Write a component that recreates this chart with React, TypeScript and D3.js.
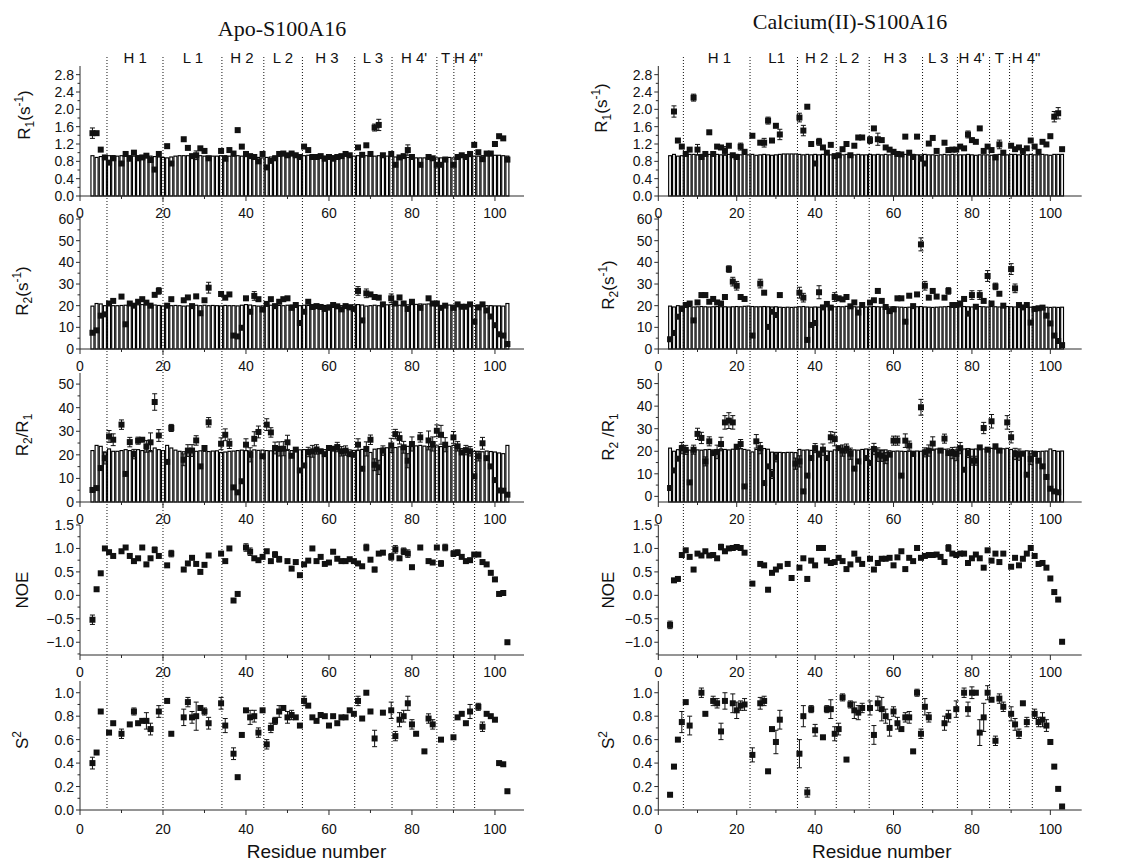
import React from 'react';
import * as d3 from 'd3';

type Pt = [number, number];

const SANS = '"Liberation Sans", Arial, Helvetica, sans-serif';
const SERIF = '"Liberation Serif", "Times New Roman", serif';

// first residue of the theoretical (open) bars
const barStart = 3;

// ---------------- Apo-S100A16 ----------------
const apoR1: Pt[] = [[3,1.45],[4,1.45],[5,1.07],[6,0.89],[7,0.77],[8,0.87],[10,0.75],[11,0.97],[12,0.86],[13,1.0],[14,0.87],[15,0.89],[16,0.93],[17,0.83],[18,0.61],[19,0.97],[21,1.15],[22,0.75],[25,1.31],[26,1.11],[27,0.92],[28,0.94],[29,1.10],[30,1.04],[31,0.87],[34,1.04],[35,0.86],[36,1.06],[37,0.98],[38,1.52],[39,1.14],[40,0.97],[41,0.92],[42,0.90],[43,0.80],[44,0.97],[45,0.66],[46,0.81],[47,0.87],[48,0.97],[49,0.98],[50,0.94],[51,0.98],[52,0.94],[53,0.90],[54,1.14],[55,1.06],[56,0.90],[57,0.90],[58,0.92],[59,0.86],[60,0.90],[61,0.86],[62,0.90],[63,0.92],[64,0.97],[65,0.94],[67,1.12],[68,0.95],[69,1.17],[70,0.97],[71,1.58],[72,1.64],[73,0.94],[75,0.97],[76,0.72],[77,0.89],[78,0.92],[79,1.06],[80,0.90],[82,0.72],[84,0.90],[85,0.87],[86,0.72],[87,0.72],[88,0.84],[90,0.72],[91,0.90],[92,0.94],[93,0.90],[94,0.97],[95,1.18],[96,1.01],[97,0.85],[98,0.98],[99,0.98],[100,1.20],[101,1.38],[102,1.33],[103,0.84]];
const apoR1Err: Pt[] = [[3,0.12],[28,0.1],[71,0.08],[72,0.13],[79,0.12]];
const apoR1Bars = [
  0.93,0.89,0.91,0.92,0.93,0.93,0.92,0.93,0.92,0.93,
  0.92,0.93,0.92,0.92,0.92,0.91,0.90,0.89,0.88,0.90,
  0.92,0.93,0.93,0.93,0.92,0.92,0.93,0.92,0.92,0.92,
  0.92,0.93,0.93,0.92,0.92,0.93,0.92,0.91,0.90,0.90,
  0.89,0.88,0.89,0.90,0.92,0.93,0.93,0.93,0.93,0.92,
  0.92,0.93,0.94,0.94,0.93,0.93,0.92,0.92,0.93,0.93,
  0.93,0.93,0.92,0.92,0.93,0.93,0.93,0.92,0.92,0.93,
  0.93,0.92,0.91,0.90,0.90,0.89,0.89,0.89,0.88,0.88,
  0.88,0.89,0.89,0.88,0.88,0.89,0.89,0.88,0.89,0.90,
  0.91,0.91,0.92,0.92,0.93,0.93,0.93,0.94,0.94,0.93,0.92];

const apoR2: Pt[] = [[3,7.5],[4,8.6],[5,15.4],[6,16],[7,21],[8,22.2],[10,24.2],[11,11.4],[12,21],[13,20],[14,21.8],[15,23],[16,21.4],[17,20],[18,25],[19,26.8],[21,20],[22,23],[25,22.5],[26,23.8],[27,19.8],[28,24.3],[29,16.5],[30,22.5],[31,28.3],[34,25.4],[35,23.7],[36,25.2],[37,6.2],[38,5.8],[39,9.8],[40,23.4],[41,17.2],[42,24.5],[43,23],[44,18.2],[45,20.8],[46,23],[47,19.8],[48,21.8],[49,23],[50,23.4],[51,19],[52,20.3],[53,12],[54,17.2],[55,21.8],[56,19.4],[57,19.8],[58,19.4],[59,18.5],[60,19.1],[61,20.3],[62,19.7],[63,18.3],[64,19.8],[65,19.2],[66,18.5],[67,26.8],[68,13.2],[69,25.7],[70,25.2],[71,24],[72,23.7],[73,20.6],[75,23.4],[76,21],[77,23.8],[78,21],[79,18.5],[80,21.8],[82,19],[84,23.4],[85,21],[86,21],[87,19],[88,20],[90,19],[91,20.6],[92,19.5],[93,19.5],[94,20.6],[95,12.6],[96,19.2],[97,20.6],[98,17.8],[99,15],[100,11],[101,6.8],[102,6.2],[103,2.3]];
const apoR2Err: Pt[] = [[19,1.5],[31,2.5],[42,2],[67,2],[69,2],[75,2]];
const apoR2Bars = [
  19.8,21.0,20.8,20.0,20.2,20.0,20.0,20.1,20.2,20.3,
  20.2,20.4,20.5,20.5,20.4,20.3,20.1,19.9,19.8,20.0,
  20.1,20.0,19.8,19.9,20.0,20.2,20.0,20.2,20.0,20.1,
  20.0,19.9,20.1,20.0,20.0,19.9,20.2,20.5,20.3,20.0,
  19.8,19.9,20.0,20.2,20.3,20.1,20.0,20.2,20.3,20.1,
  20.0,20.2,20.1,20.0,19.9,20.0,20.1,20.3,20.2,20.0,
  20.0,20.1,20.3,20.4,20.5,20.3,19.8,20.0,20.2,20.0,
  20.1,20.4,20.5,20.3,20.2,20.3,20.4,20.5,20.6,20.8,
  20.7,20.8,20.5,20.2,20.0,20.1,20.3,20.2,20.0,20.1,
  20.0,19.8,20.0,20.2,20.1,20.0,20.0,19.9,19.9,19.8,21.0];

const apoRatio: Pt[] = [[3,5.1],[4,5.9],[5,14.4],[6,18.6],[7,27.8],[8,26.4],[10,32.8],[11,11.9],[12,25.4],[13,20.3],[14,26],[15,26.4],[16,23.6],[17,25.3],[18,42.4],[19,28.2],[21,17],[22,31.4],[25,17.9],[26,21.8],[27,21.8],[28,26.1],[29,15.1],[30,22.9],[31,33.8],[34,24.7],[35,28.5],[36,24.7],[37,6.2],[38,4.1],[39,8.8],[40,24.3],[41,20],[42,26.8],[43,29.7],[44,19.4],[45,32.8],[46,29.5],[47,22.9],[48,22.5],[49,22.6],[50,25.3],[51,19.6],[52,22.2],[53,13.4],[54,15.5],[55,21.2],[56,21.5],[57,22.3],[58,21.5],[59,20.3],[60,22.9],[61,22.6],[62,23.3],[63,21.5],[64,21.8],[65,20.3],[66,20],[67,24.3],[68,14.1],[69,22.5],[70,26.4],[71,15.8],[72,14.7],[73,21.8],[75,24],[76,28.8],[77,27.1],[78,23.2],[79,17.5],[80,24.6],[82,27.4],[84,26.1],[85,24.6],[86,30.2],[87,28.5],[88,24.3],[90,27.4],[91,23.6],[92,21],[93,22],[94,21.5],[95,10.9],[96,19.4],[97,24.9],[98,18.6],[99,15.1],[100,9.3],[101,4.9],[102,4.8],[103,3.1]];
const apoRatioErr: Pt[] = [[6,2.5],[7,2.5],[8,2.5],[10,2],[12,2],[13,2],[14,1.5],[16,2.5],[17,4],[18,3.5],[19,2.5],[22,1.5],[25,2.5],[26,2.5],[27,2.5],[28,2],[31,2],[34,2.5],[35,2.5],[36,2],[40,2.5],[41,3],[42,3],[43,2.5],[45,2.5],[46,2],[47,2.5],[48,3],[49,3],[50,3],[55,2],[56,2.5],[57,2],[62,2],[63,2],[64,2],[67,2.5],[69,3],[70,2],[71,2.5],[72,3],[73,2],[75,3],[76,2],[77,2.5],[78,2.5],[79,3],[80,3],[82,2],[84,4],[85,3],[86,2.5],[87,4],[88,3],[90,2.5],[91,2],[93,2],[94,2],[96,2],[97,2.5]];
const apoRatioBars = [
  21.8,24.0,23.6,21.2,22.5,21.5,21.5,21.8,22.2,21.8,
  21.5,22.2,21.8,22.5,21.8,22.9,22.2,21.8,24.0,22.9,
  22.0,21.5,21.3,21.5,21.8,21.5,21.7,21.5,21.4,21.6,
  21.7,21.0,21.2,21.5,21.6,21.8,22.0,21.8,21.6,22.1,
  21.9,22.0,21.8,21.7,21.9,22.0,22.1,21.9,21.8,22.0,
  22.1,22.2,22.0,21.9,22.1,22.3,22.2,22.0,21.9,22.1,
  22.0,22.2,22.1,21.9,22.0,22.3,22.1,21.0,22.4,22.6,
  22.8,23.0,23.2,23.1,23.4,23.2,23.6,23.5,23.8,24.0,
  23.7,23.5,23.3,23.8,23.5,23.2,23.6,24.0,23.4,22.6,
  21.8,21.6,21.5,21.5,21.3,21.6,21.4,21.2,20.8,20.5,24.0];

const apoNoe: Pt[] = [[3,-0.52],[4,0.13],[5,0.47],[6,1.0],[7,0.92],[8,0.84],[10,0.94],[11,1.02],[12,0.84],[13,0.73],[14,0.79],[15,1.02],[16,0.66],[17,0.79],[18,0.97],[19,0.84],[21,0.64],[22,0.89],[25,0.55],[26,0.68],[27,0.80],[28,0.67],[29,0.50],[30,0.65],[31,0.85],[34,0.89],[35,0.73],[36,1.0],[37,-0.11],[38,0.03],[40,1.02],[41,0.93],[42,0.79],[43,0.75],[44,0.82],[45,0.94],[46,0.73],[47,0.87],[48,0.77],[50,0.73],[51,0.57],[52,0.71],[53,0.43],[54,0.66],[55,0.74],[56,1.0],[57,0.73],[58,0.82],[59,0.67],[60,0.70],[61,0.93],[62,0.78],[63,0.73],[64,0.73],[65,0.77],[66,0.73],[67,0.68],[68,0.62],[69,1.02],[70,0.76],[71,0.55],[72,0.89],[73,0.91],[75,0.82],[76,0.98],[77,0.79],[78,0.94],[79,0.89],[80,0.60],[82,1.02],[84,0.73],[85,0.70],[86,1.02],[87,0.68],[88,1.02],[90,0.89],[91,0.91],[92,0.82],[93,0.73],[94,0.75],[95,0.87],[96,0.87],[97,0.71],[98,0.66],[99,0.48],[100,0.34],[101,0.03],[102,0.05],[103,-1.0]];
const apoNoeErr: Pt[] = [[3,0.1],[18,0.06],[22,0.07],[40,0.08],[41,0.08],[47,0.06],[48,0.06],[69,0.07],[71,0.05],[75,0.07],[76,0.08],[78,0.07],[79,0.08],[87,0.06],[88,0.07],[90,0.06],[91,0.06]];

const apoS2: Pt[] = [[3,0.40],[4,0.49],[5,0.84],[7,0.66],[8,0.74],[10,0.65],[12,0.73],[13,0.84],[14,0.74],[15,0.76],[16,0.76],[17,0.69],[19,0.84],[21,0.93],[22,0.65],[25,0.79],[26,0.92],[27,0.79],[28,0.80],[29,0.87],[30,0.84],[31,0.74],[34,0.91],[35,0.72],[37,0.48],[38,0.28],[39,0.64],[40,0.85],[41,0.79],[42,0.80],[43,0.66],[44,0.85],[45,0.56],[46,0.70],[47,0.76],[48,0.84],[49,0.87],[50,0.79],[51,0.81],[52,0.79],[53,0.72],[54,0.93],[55,0.89],[56,0.79],[57,0.76],[58,0.81],[59,0.80],[60,0.72],[61,0.80],[62,0.74],[63,0.79],[64,0.79],[65,0.85],[66,0.82],[67,0.93],[68,0.78],[69,1.0],[70,0.84],[71,0.61],[73,0.83],[75,0.85],[76,0.63],[77,0.77],[78,0.80],[79,0.91],[80,0.73],[81,0.65],[83,0.50],[84,0.78],[85,0.73],[87,0.60],[90,0.62],[91,0.79],[92,0.82],[93,0.74],[94,0.84],[96,0.88],[97,0.71],[98,0.82],[99,0.80],[100,0.77],[101,0.40],[102,0.39],[103,0.16]];
const apoS2Err: Pt[] = [[3,0.05],[10,0.04],[13,0.03],[16,0.07],[17,0.05],[19,0.05],[25,0.07],[26,0.04],[27,0.05],[28,0.12],[30,0.03],[31,0.05],[34,0.05],[35,0.06],[37,0.05],[41,0.06],[42,0.05],[43,0.04],[45,0.04],[46,0.04],[47,0.03],[48,0.05],[50,0.05],[51,0.04],[54,0.04],[67,0.04],[71,0.07],[75,0.07],[76,0.04],[77,0.06],[78,0.05],[79,0.06],[80,0.04],[84,0.04],[85,0.04],[94,0.06],[96,0.03],[97,0.04]];

// ---------------- Calcium(II)-S100A16 ----------------
const caR1: Pt[] = [[4,1.95],[5,1.28],[6,1.14],[7,0.97],[8,1.07],[9,2.27],[10,1.07],[11,0.90],[12,0.97],[13,1.47],[14,0.97],[15,1.14],[16,1.12],[17,1.04],[18,1.16],[19,0.94],[20,0.90],[21,1.14],[22,1.02],[24,1.39],[26,1.23],[27,1.23],[28,1.74],[29,1.28],[30,1.62],[31,1.42],[36,1.81],[37,1.51],[38,2.06],[39,1.20],[40,0.75],[41,1.25],[42,1.12],[43,1.0],[44,1.18],[45,0.92],[46,0.94],[47,1.08],[48,1.20],[49,0.94],[50,1.16],[51,1.35],[52,1.35],[54,1.29],[55,1.56],[56,1.31],[57,1.29],[58,1.12],[59,1.07],[60,1.02],[61,0.97],[62,0.96],[63,1.37],[64,1.0],[65,0.90],[66,1.37],[67,0.86],[68,0.75],[69,1.21],[70,1.34],[71,1.04],[73,1.23],[74,1.06],[75,1.07],[76,1.07],[77,1.14],[78,1.10],[79,1.42],[80,1.29],[81,1.25],[82,1.56],[83,1.04],[84,1.14],[85,1.06],[86,0.89],[87,1.19],[88,1.0],[90,1.16],[91,1.08],[92,1.12],[93,1.04],[94,1.10],[95,1.28],[96,1.14],[97,1.02],[98,1.25],[99,1.19],[100,1.38],[101,1.83],[102,1.91],[103,1.08]];
const caR1Err: Pt[] = [[4,0.13],[9,0.08],[10,0.12],[17,0.1],[21,0.08],[27,0.1],[28,0.08],[31,0.12],[36,0.1],[37,0.12],[41,0.08],[54,0.08],[56,0.14],[79,0.08],[87,0.1],[101,0.12],[102,0.13]];
const caR1Bars = [
  0.93,0.96,0.92,0.93,0.95,0.96,0.96,0.95,0.96,0.95,
  0.96,0.95,0.96,0.95,0.95,0.96,0.95,0.96,0.95,0.96,
  0.95,0.96,0.94,0.95,0.96,0.95,0.94,0.95,0.96,0.97,
  0.97,0.97,0.97,0.96,0.95,0.96,0.95,0.96,0.95,0.96,
  0.96,0.95,0.96,0.95,0.95,0.96,0.96,0.95,0.96,0.95,
  0.95,0.96,0.95,0.96,0.95,0.96,0.95,0.96,0.95,0.95,
  0.96,0.95,0.96,0.95,0.95,0.96,0.95,0.95,0.94,0.95,
  0.96,0.95,0.96,0.95,0.95,0.95,0.96,0.95,0.94,0.95,
  0.95,0.95,0.94,0.95,0.96,0.95,0.95,0.96,0.96,0.95,
  0.96,0.95,0.96,0.95,0.95,0.96,0.95,0.94,0.96,0.96,0.96];

const caR2: Pt[] = [[3,4.5],[4,7.4],[5,14.9],[6,18.5],[7,20.3],[8,21],[9,13.2],[10,21.5],[11,24.9],[12,24.9],[13,21.8],[14,23.1],[15,21.5],[16,21],[17,24],[18,36.9],[19,31.1],[20,29.2],[21,24],[22,23.1],[24,6.2],[26,30.2],[27,26],[28,10.2],[29,17.2],[30,15.7],[31,24.9],[36,26],[37,23.7],[38,4.2],[39,11.1],[40,12],[41,26.2],[42,19.2],[43,20.8],[44,19.1],[45,24],[46,23.4],[47,22.9],[48,24],[49,19.7],[50,21.5],[51,16.8],[52,20.3],[54,21.4],[55,22.5],[56,26.8],[57,22.2],[58,19.4],[59,17.5],[60,18.3],[61,23.4],[62,23.4],[63,12.6],[64,24.6],[65,19.8],[66,25.2],[67,48.3],[68,29.2],[69,23.7],[70,26.8],[71,24.2],[73,23.7],[74,26.8],[75,20.3],[76,20.3],[77,21],[78,23.1],[79,16.3],[80,24.9],[81,19.5],[82,24.9],[83,22.2],[84,33.7],[85,21],[86,28.9],[87,25.5],[88,20],[90,36.9],[91,28],[92,20.3],[93,19.2],[94,20.3],[95,12.2],[96,18.5],[97,18.8],[98,19.1],[99,15.4],[100,11.8],[101,6.2],[102,3.7],[103,1.8]];
const caR2Err: Pt[] = [[18,1.5],[19,2],[20,2],[26,2],[36,2.5],[37,2],[41,3],[45,2],[67,3],[68,2],[74,1.5],[80,2],[82,2],[84,2.5],[86,1.5],[90,2.5],[91,2]];
const caR2Bars = [
  19.8,19.4,20.0,19.8,19.5,19.6,19.4,19.5,19.6,19.5,
  19.4,19.5,19.6,19.5,19.5,19.4,19.5,19.6,19.5,19.7,
  19.8,19.6,19.5,19.5,19.6,19.5,19.4,19.5,19.3,19.2,
  19.3,19.2,19.3,19.5,19.6,19.4,19.3,19.4,19.3,19.4,
  19.5,19.4,19.5,19.6,19.5,19.7,19.6,19.5,19.4,19.3,
  19.4,19.5,19.6,19.5,19.4,19.3,19.4,19.5,19.4,19.3,
  19.2,19.3,19.4,19.5,19.6,19.4,19.3,19.2,19.3,19.4,
  19.5,19.6,19.5,19.4,19.5,19.6,19.5,19.4,19.5,19.6,
  19.5,19.4,19.6,19.5,19.4,19.5,19.6,19.5,19.4,19.5,
  19.3,19.4,19.3,19.2,19.3,19.2,19.3,19.2,19.3,19.2,19.3];

const caRatio: Pt[] = [[3,3.7],[4,11.5],[5,16.7],[6,21.4],[7,20.6],[8,6.2],[9,20.7],[10,27.7],[11,25.9],[12,15.5],[13,24.4],[14,19.2],[15,19.7],[16,23.2],[17,32.8],[18,33.6],[19,32.8],[20,22],[21,23.2],[22,4.4],[25,24.4],[26,21.4],[27,5.9],[28,13.3],[29,9.9],[30,17.3],[35,14.5],[36,15.5],[37,2.2],[38,9.2],[39,17],[40,21.4],[41,18.5],[42,20.7],[43,17],[44,26.2],[45,25.4],[46,21.4],[47,20.3],[48,21.2],[49,18.9],[50,12.3],[51,15.5],[53,17],[54,14.8],[55,21],[56,18.5],[57,18],[58,17],[59,18.5],[60,24.7],[61,24.7],[62,9.2],[63,24.7],[64,22.5],[65,18.8],[67,39.5],[68,19.5],[69,20.3],[70,23.4],[72,20.3],[73,25.6],[74,19.2],[75,19.2],[76,18.8],[77,21.4],[78,11.8],[79,19.2],[80,15.8],[81,15.8],[82,21.7],[83,30.3],[84,20.7],[85,33.3],[86,22.2],[87,20.3],[89,32.8],[90,26.2],[91,18.8],[92,18.5],[93,18.9],[94,9.6],[95,16.6],[96,18.8],[97,15.8],[98,13.3],[99,8.6],[100,3.4],[101,2.2],[102,1.8]];
const caRatioErr: Pt[] = [[6,2.5],[7,2],[9,2],[10,2.5],[11,2.5],[12,2],[13,2],[15,3],[16,3],[17,3],[18,3.5],[19,3],[21,2],[25,3],[26,2.5],[29,2],[30,2],[35,2.5],[36,2.5],[40,2],[42,2.5],[44,2.5],[45,3],[47,2.5],[48,2],[49,2.5],[55,2.5],[56,3],[57,2.5],[58,2.5],[60,2],[61,2],[63,3],[64,2],[67,3.5],[68,2],[69,2.5],[70,3],[73,2],[75,2.5],[76,3],[77,2.5],[79,2],[80,2],[81,2],[83,2.5],[85,3],[89,3],[90,2.5],[91,2.5],[92,2.5],[95,2.5]];
const caRatioBars = [
  21.4,20.0,20.7,22.6,20.6,20.5,20.4,20.6,20.5,20.7,
  20.8,20.6,20.7,21.0,20.8,20.6,20.9,21.0,21.1,20.8,
  20.5,19.7,20.8,21.0,21.2,20.9,19.6,19.5,19.5,19.4,
  19.5,19.5,19.4,20.8,20.5,20.6,20.4,20.1,20.0,20.0,
  20.1,20.0,20.6,20.9,20.8,21.0,20.7,20.6,20.5,20.8,
  21.0,20.9,20.8,20.6,20.5,20.6,20.2,20.0,20.1,20.0,
  19.9,20.0,20.0,20.1,20.0,20.5,20.8,20.9,21.0,20.8,
  20.9,21.0,20.8,20.6,20.9,21.0,21.2,20.9,21.0,21.2,
  21.0,21.1,21.3,21.0,20.9,21.1,21.3,20.8,20.2,20.1,
  20.0,20.2,20.1,20.0,19.9,20.0,20.1,21.0,20.3,20.0,20.1];

const caNoe: Pt[] = [[3,-0.63],[4,0.32],[5,0.35],[6,0.86],[7,0.96],[8,0.82],[9,0.55],[10,0.89],[11,0.85],[12,0.94],[13,0.85],[14,0.86],[15,0.79],[16,1.03],[17,0.94],[18,1.0],[19,1.01],[20,1.03],[21,1.01],[22,0.91],[24,0.25],[26,0.67],[27,0.64],[28,0.12],[29,0.48],[30,0.55],[31,0.62],[33,0.67],[34,0.37],[36,0.59],[37,0.79],[38,0.35],[39,0.74],[40,0.64],[41,1.01],[42,1.01],[43,0.74],[44,0.69],[45,0.71],[46,0.80],[47,0.73],[48,0.56],[49,0.66],[50,0.89],[51,0.76],[52,0.67],[54,0.78],[55,0.55],[56,0.69],[57,0.78],[58,0.78],[59,0.80],[60,0.64],[61,0.81],[62,0.94],[63,0.56],[64,0.80],[65,0.73],[66,1.01],[67,0.80],[68,0.84],[69,0.86],[70,0.86],[71,0.87],[72,0.82],[73,0.71],[74,1.01],[75,0.89],[76,0.86],[77,0.89],[78,0.89],[79,0.69],[80,0.79],[81,0.87],[82,0.79],[83,0.59],[84,0.96],[85,0.74],[86,0.89],[87,0.71],[88,0.89],[90,0.61],[91,0.80],[92,0.64],[93,0.78],[94,0.89],[95,1.01],[96,0.84],[97,0.67],[98,0.69],[99,0.59],[100,0.36],[101,0.07],[102,-0.09],[103,-0.99]];
const caNoeErr: Pt[] = [[3,0.08],[16,0.06],[20,0.05],[21,0.05],[74,0.07],[84,0.03]];

const caS2: Pt[] = [[3,0.13],[4,0.37],[5,0.60],[6,0.75],[7,0.92],[8,0.72],[11,1.0],[12,0.82],[14,0.93],[15,0.91],[16,0.67],[17,0.93],[19,0.91],[20,0.85],[21,0.89],[22,0.90],[24,0.47],[26,0.91],[27,0.93],[28,0.33],[29,0.69],[30,0.58],[31,0.77],[36,0.48],[37,0.80],[38,0.15],[39,0.86],[40,0.68],[42,0.62],[43,0.86],[44,0.86],[45,0.65],[46,0.69],[47,0.96],[48,0.43],[49,0.90],[50,0.85],[51,0.83],[52,0.87],[54,0.87],[55,0.64],[56,0.91],[57,0.86],[58,0.80],[59,0.70],[60,0.84],[61,0.74],[62,0.69],[63,0.79],[64,0.79],[65,0.50],[66,1.0],[67,0.65],[68,0.88],[69,0.79],[73,0.74],[74,0.80],[76,0.86],[78,1.0],[79,0.86],[80,1.0],[81,1.0],[82,0.66],[83,0.79],[84,1.0],[85,0.94],[86,0.59],[87,0.95],[88,0.88],[90,0.82],[91,0.73],[92,0.65],[93,0.91],[94,0.75],[96,0.82],[97,0.75],[98,0.77],[99,0.72],[100,0.58],[101,0.37],[102,0.18],[103,0.03]];
const caS2Err: Pt[] = [[6,0.09],[8,0.08],[11,0.04],[14,0.04],[15,0.04],[16,0.07],[17,0.07],[19,0.08],[20,0.07],[21,0.04],[22,0.05],[24,0.06],[26,0.05],[27,0.04],[30,0.1],[31,0.08],[36,0.12],[37,0.09],[38,0.04],[39,0.03],[40,0.05],[43,0.03],[44,0.08],[45,0.06],[46,0.05],[47,0.03],[49,0.03],[50,0.07],[51,0.06],[52,0.04],[54,0.06],[55,0.08],[56,0.06],[57,0.1],[58,0.06],[59,0.07],[60,0.04],[61,0.05],[63,0.04],[64,0.05],[66,0.03],[67,0.04],[68,0.07],[69,0.04],[73,0.06],[74,0.05],[76,0.07],[78,0.04],[79,0.06],[80,0.05],[82,0.11],[83,0.12],[84,0.06],[86,0.04],[87,0.04],[88,0.04],[90,0.06],[91,0.05],[92,0.04],[94,0.04],[96,0.04],[97,0.04],[98,0.06],[99,0.05]];

// secondary structure boundaries (residue) and region labels [text, centre residue]
const apoBounds = [6.5, 20, 34.2, 44.3, 53.6, 66.2, 75.2, 86, 90.1, 95.1];
const caBounds = [6.4, 23.4, 35.5, 45.4, 53.8, 67.4, 76.3, 84.5, 89.6, 95.4];
const apoRegions: [string, number][] = [['H 1', 13.3], ['L 1', 27.2], ['H 2', 39], ['L 2', 48.9], ['H 3', 59.5], ['L 3', 70.6], ["H 4'", 80.5], ['T', 88.1], ['H 4"', 93.6]];
const caRegions: [string, number][] = [['H 1', 15.6], ['L1', 30.2], ['H 2', 40.4], ['L 2', 48.7], ['H 3', 60.4], ['L 3', 71.4], ["H 4'", 79.9], ['T', 87.0], ['H 4"', 93.8]];

// axis ticks
const xMajorTicks = [0, 20, 40, 60, 80, 100];
const xMinorTicks = [10, 30, 50, 70, 90];
const r1Ticks = [0, 0.4, 0.8, 1.2, 1.6, 2.0, 2.4, 2.8];
const r1Minor = [0.2, 0.6, 1.0, 1.4, 1.8, 2.2, 2.6];
const r2Ticks = [0, 10, 20, 30, 40, 50, 60];
const r2Minor = [5, 15, 25, 35, 45, 55];
const ratioTicks = [0, 10, 20, 30, 40, 50];
const ratioMinor = [5, 15, 25, 35, 45];
const noeTicks = [-1.0, -0.5, 0, 0.5, 1.0, 1.5];
const noeMinor = [-1.25, -0.75, -0.25, 0.25, 0.75, 1.25];
const s2Ticks = [0, 0.2, 0.4, 0.6, 0.8, 1.0];
const s2Minor = [0.1, 0.3, 0.5, 0.7, 0.9];

const f1 = d3.format('.1f');
const f0 = d3.format('d');

type PanelProps = {
  x: d3.ScaleLinear<number, number>;
  top: number;
  bottom: number;
  domain: [number, number];
  ticks: number[];
  minor: number[];
  fmt: (v: number) => string;
  pts: Pt[];
  errs: Pt[];
  bars?: number[];
  title: React.ReactNode;
  titleX: number;
  titleY: number;
  xLabelGap: number;
  layer: 'back' | 'front';
};

function Panel(p: PanelProps) {
  const y = d3.scaleLinear().domain(p.domain).range([p.bottom, p.top]);
  const [xa, xb] = p.x.range();
  const step = p.x(1) - p.x(0);
  const bw = step * 0.72;
  const errMap = new Map(p.errs);
  const axis = '#2a2a2a';

  if (p.layer === 'back') {
    return (
      <g>
        {p.bars && p.bars.map((v, i) => (
          <rect key={i} x={p.x(barStart + i) - bw / 2} y={y(v)} width={bw} height={p.bottom - y(v)}
            fill="#fff" stroke="#000" strokeWidth={1.15} />
        ))}
      </g>
    );
  }

  return (
    <g fontFamily={SANS} fill="#111">
      <line x1={xa} x2={xa} y1={p.top} y2={p.bottom} stroke={axis} />
      <line x1={xa} x2={xb} y1={p.bottom} y2={p.bottom} stroke={axis} />
      {p.ticks.map(t => (
        <g key={'t' + t}>
          <line x1={xa - 4} x2={xa} y1={y(t)} y2={y(t)} stroke={axis} />
          <text x={xa - 6} y={y(t)} dy="0.36em" textAnchor="end" fontSize={14}>{p.fmt(t)}</text>
        </g>
      ))}
      {p.minor.map(t => (
        <line key={'m' + t} x1={xa - 2.5} x2={xa} y1={y(t)} y2={y(t)} stroke={axis} />
      ))}
      {xMajorTicks.map(t => (
        <g key={'x' + t}>
          <line x1={p.x(t)} x2={p.x(t)} y1={p.bottom} y2={p.bottom + 5} stroke={axis} />
          <text x={p.x(t)} y={p.bottom + p.xLabelGap} textAnchor="middle" fontSize={14}>{t}</text>
        </g>
      ))}
      {xMinorTicks.map(t => (
        <line key={'xm' + t} x1={p.x(t)} x2={p.x(t)} y1={p.bottom} y2={p.bottom + 3} stroke={axis} />
      ))}
      {p.pts.map(([r, v]) => {
        const e = errMap.get(r);
        if (!e) return null;
        const cx = p.x(r);
        return (
          <g key={'e' + r} stroke="#111" strokeWidth={1}>
            <line x1={cx} x2={cx} y1={y(v - e)} y2={y(v + e)} />
            <line x1={cx - 2.5} x2={cx + 2.5} y1={y(v - e)} y2={y(v - e)} />
            <line x1={cx - 2.5} x2={cx + 2.5} y1={y(v + e)} y2={y(v + e)} />
          </g>
        );
      })}
      {p.pts.map(([r, v]) => (
        <rect key={'p' + r} x={p.x(r) - 3} y={y(v) - 3} width={6} height={6} fill="#111" />
      ))}
      <text transform={`translate(${p.titleX},${p.titleY}) rotate(-90)`} textAnchor="middle" fontSize={17}>
        {p.title}
      </text>
    </g>
  );
}

const r1Title = (<>R<tspan dy={4} fontSize={12}>1</tspan><tspan dy={-4}>(s</tspan><tspan dy={-7} fontSize={12}>-1</tspan><tspan dy={7}>)</tspan></>);
const r2Title = (<>R<tspan dy={4} fontSize={12}>2</tspan><tspan dy={-4}>(s</tspan><tspan dy={-7} fontSize={12}>-1</tspan><tspan dy={7}>)</tspan></>);
const ratioTitle = (sp: string) => (<>R<tspan dy={4} fontSize={12}>2</tspan><tspan dy={-4}>{sp + '/R'}</tspan><tspan dy={4} fontSize={12}>1</tspan><tspan dy={-4}>{''}</tspan></>);
const s2Title = (<>S<tspan dy={-7} fontSize={12}>2</tspan><tspan dy={7}>{''}</tspan></>);

function Column(props: {
  x: d3.ScaleLinear<number, number>;
  title: string; titleY: number;
  bounds: number[]; regions: [string, number][];
  titleOff: number; r1Off: number; ratioDomain: [number, number]; ratioSpace: string;
  r1: Pt[]; r1e: Pt[]; r1b: number[];
  r2: Pt[]; r2e: Pt[]; r2b: number[];
  ra: Pt[]; rae: Pt[]; rab: number[];
  noe: Pt[]; noee: Pt[];
  s2: Pt[]; s2e: Pt[];
  yTitles: number[];
}) {
  const { x } = props;
  const xa = x.range()[0];
  const specs = [
    { top: 66, bottom: 196, domain: [0, 3.0] as [number, number], ticks: r1Ticks, minor: r1Minor, fmt: f1, pts: props.r1, errs: props.r1e, bars: props.r1b, title: r1Title, off: props.r1Off, gap: 22 },
    { top: 216, bottom: 349, domain: [0, 61.4] as [number, number], ticks: r2Ticks, minor: r2Minor, fmt: f0, pts: props.r2, errs: props.r2e, bars: props.r2b, title: r2Title, off: props.titleOff, gap: 22 },
    { top: 373, bottom: 502, domain: props.ratioDomain, ticks: ratioTicks, minor: ratioMinor, fmt: f0, pts: props.ra, errs: props.rae, bars: props.rab, title: ratioTitle(props.ratioSpace), off: props.titleOff, gap: 22 },
    { top: 525, bottom: 655, domain: [-1.272, 1.5] as [number, number], ticks: noeTicks, minor: noeMinor, fmt: f1, pts: props.noe, errs: props.noee, bars: undefined, title: 'NOE', off: props.titleOff, gap: 22 },
    { top: 681, bottom: 810, domain: [0, 1.1] as [number, number], ticks: s2Ticks, minor: s2Minor, fmt: f1, pts: props.s2, errs: props.s2e, bars: undefined, title: s2Title, off: props.titleOff, gap: 24 },
  ];
  const render = (layer: 'back' | 'front') => specs.map((s, i) => (
    <Panel key={layer + i} x={x} top={s.top} bottom={s.bottom} domain={s.domain} ticks={s.ticks} minor={s.minor}
      fmt={s.fmt} pts={s.pts} errs={s.errs} bars={s.bars} title={s.title}
      titleX={xa + s.off} titleY={props.yTitles[i]} xLabelGap={s.gap} layer={layer} />
  ));
  const [x0, x1] = x.range();
  return (
    <g>
      {render('back')}
      {props.bounds.map(b => (
        <line key={'d' + b} x1={x(b)} x2={x(b)} y1={57} y2={810} stroke="#111" strokeWidth={1} strokeDasharray="1,2" />
      ))}
      {render('front')}
      {props.regions.map(([t, r]) => (
        <text key={t} x={x(r)} y={63} textAnchor="middle" fontFamily={SANS} fontSize={15} fill="#111">{t}</text>
      ))}
      <text x={(x0 + x1) / 2 - 20} y={props.titleY} textAnchor="middle" fontFamily={SERIF} fontSize={22} fill="#111">{props.title}</text>
      <text x={x(57)} y={858} textAnchor="middle" fontFamily={SANS} fontSize={19} fill="#111">Residue number</text>
    </g>
  );
}

export default function App() {
  const xApo = d3.scaleLinear().domain([0, 107]).range([80, 524]);
  const xCa = d3.scaleLinear().domain([0, 108]).range([658.3, 1081.7]);
  return (
    <svg width={1134} height={861} style={{ position: 'absolute', left: 0, top: 0, background: '#fff' }}>
      <rect width={1134} height={861} fill="#fff" />
      <Column x={xApo} title="Apo-S100A16" titleY={36} bounds={apoBounds} regions={apoRegions}
        titleOff={-52} r1Off={-50} ratioDomain={[0, 54.7]} ratioSpace=""
        r1={apoR1} r1e={apoR1Err} r1b={apoR1Bars}
        r2={apoR2} r2e={apoR2Err} r2b={apoR2Bars}
        ra={apoRatio} rae={apoRatioErr} rab={apoRatioBars}
        noe={apoNoe} noee={apoNoeErr} s2={apoS2} s2e={apoS2Err}
        yTitles={[115, 291, 435, 590, 740]} />
      <Column x={xCa} title="Calcium(II)-S100A16" titleY={29} bounds={caBounds} regions={caRegions}
        titleOff={-44} r1Off={-51} ratioDomain={[-2.5, 54.7]} ratioSpace=" "
        r1={caR1} r1e={caR1Err} r1b={caR1Bars}
        r2={caR2} r2e={caR2Err} r2b={caR2Bars}
        ra={caRatio} rae={caRatioErr} rab={caRatioBars}
        noe={caNoe} noee={caNoeErr} s2={caS2} s2e={caS2Err}
        yTitles={[108, 285, 437, 590, 740]} />
    </svg>
  );
}
